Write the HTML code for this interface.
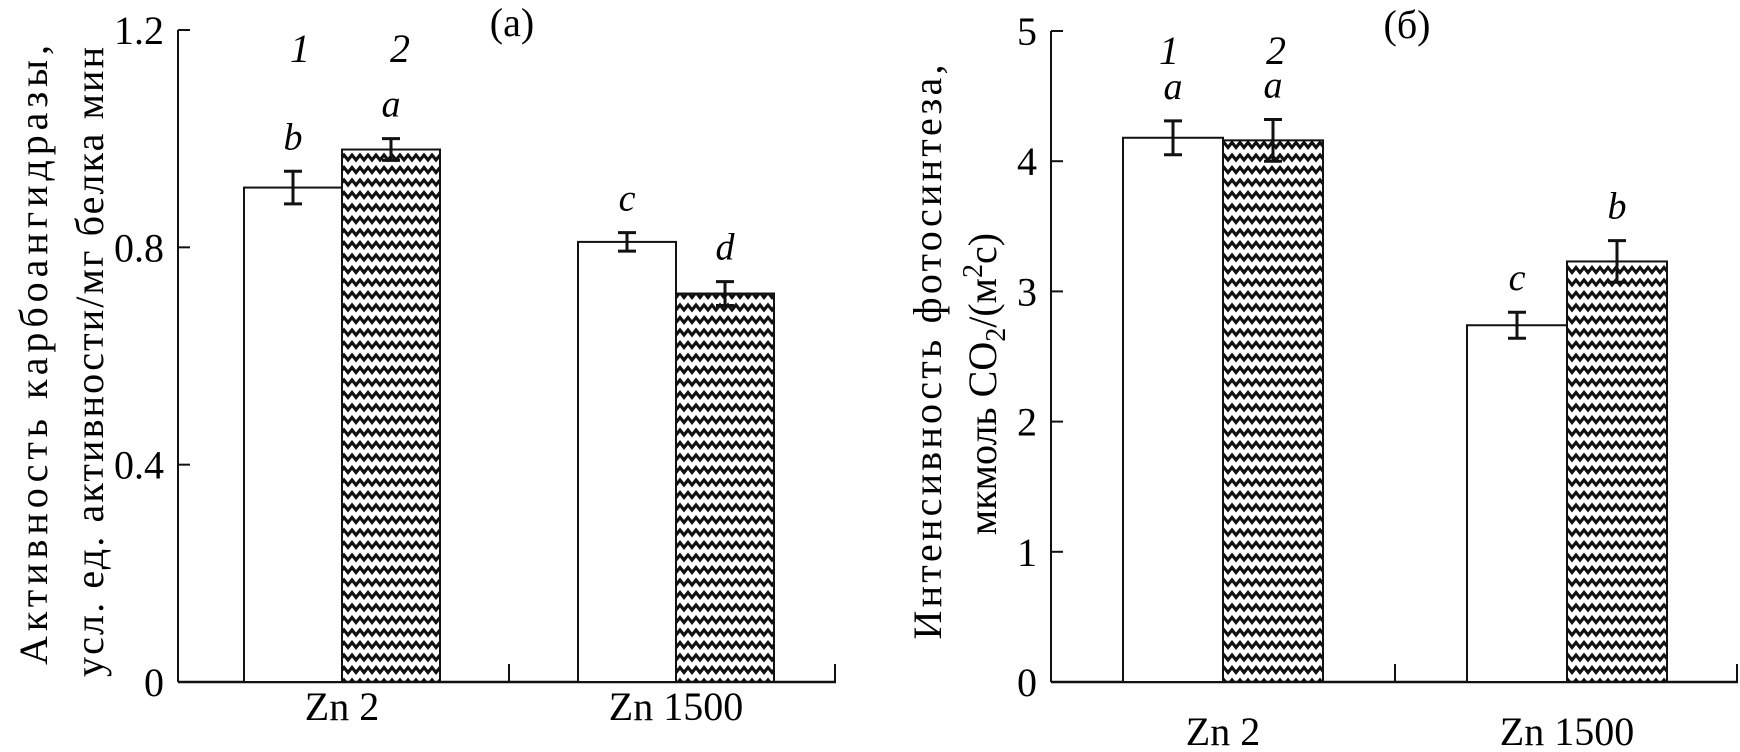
<!DOCTYPE html>
<html><head><meta charset="utf-8"><style>
body{margin:0;background:#fff}
svg{display:block;font-family:"Liberation Serif",serif}
</style></head><body>
<svg id="c" width="1740" height="752" xmlns="http://www.w3.org/2000/svg">
<defs>
<pattern id="zz" patternUnits="userSpaceOnUse" width="16" height="12.5" x="0" y="2">
<path d="M-4,8 L0,3 L4,8 L8,3 L12,8 L16,3 L20,8" fill="none" stroke="#111" stroke-width="3.2"/>
</pattern>
</defs>
</svg>
<script>
const categories = ["Zn 2","Zn 1500"];
const aWhite = [0.91, 0.81];
const aWhiteErr = [0.03, 0.017];
const aHatch = [0.98, 0.715];
const aHatchErr = [0.02, 0.022];
const aLetWhite = ["b","c"];
const aLetHatch = ["a","d"];
const aTicks = [0, 0.4, 0.8, 1.2];
const aTickLabels = ["0","0.4","0.8","1.2"];
const bWhite = [4.18, 2.74];
const bWhiteErr = [0.13, 0.1];
const bHatch = [4.16, 3.23];
const bHatchErr = [0.16, 0.16];
const bLetWhite = ["a","c"];
const bLetHatch = ["a","b"];
const bTicks = [0,1,2,3,4,5];
const bTickLabels = ["0","1","2","3","4","5"];

const svg = document.getElementById('c');
const NS = "http://www.w3.org/2000/svg";
function el(tag, attrs, txt){const e=document.createElementNS(NS,tag);for(const k in attrs)e.setAttribute(k,attrs[k]);if(txt!==undefined)e.textContent=txt;svg.appendChild(e);return e;}

function panel(p){
  const y = v => p.y0 - (v/p.max)*(p.y0-p.y1);
  const ax = el('line',{x1:p.ax,y1:p.y1,x2:p.ax,y2:p.y0,stroke:'#111','stroke-width':2});
  
  
  const xa = el('line',{x1:p.ax,y1:p.y0,x2:p.xEnd,y2:p.y0,stroke:'#111','stroke-width':2.5});
  
  
  [p.mid,p.xEnd-1].forEach(x=>{el('line',{x1:x,y1:p.y0,x2:x,y2:p.y0-18,stroke:'#111','stroke-width':2});});
  p.ticks.forEach((t,i)=>{
    el('line',{x1:p.ax,y1:y(t),x2:p.ax+12,y2:y(t),stroke:'#111','stroke-width':2});
    const tl = el('text',{x:p.ax-14,y:y(t)+14,'font-size':40,'text-anchor':'end'},p.tickLabels[i]);
    
    
  });
  categories.forEach((c,i)=>{
    const wx = p.barX[i], bw = p.bw;
    const r1 = el('rect',{x:wx,y:y(p.white[i]),width:bw,height:p.y0-y(p.white[i]),fill:'#fff',stroke:'#111','stroke-width':2});
    
    
    const r2 = el('rect',{x:wx+bw,y:y(p.hatch[i]),width:bw,height:p.y0-y(p.hatch[i]),fill:'url(#zz)',stroke:'#111','stroke-width':2});
    
    
    [[wx+bw/2,p.white[i],p.whiteErr[i],p.letW[i]],[wx+bw*1.5,p.hatch[i],p.hatchErr[i],p.letH[i]]].forEach(([cx,v,e,l])=>{
      const g = el('path',{d:`M${cx},${y(v+e)}V${y(v-e)}M${cx-9},${y(v+e)}H${cx+9}M${cx-9},${y(v-e)}H${cx+9}`,stroke:'#111','stroke-width':3,fill:'none'});
      
      
      const lt = el('text',{x:cx,y:y(v+e)-22,'font-size':38,'font-style':'italic','text-anchor':'middle'},l);
      
      
    });
    const cl = el('text',{x:wx+bw,y:p.catY,'font-size':40,'text-anchor':'middle'},c);
    
    
  });
}

panel({id:'panel-a',ax:178,y0:682,y1:30,xEnd:836,mid:509,max:1.2,ticks:aTicks,tickLabels:aTickLabels,
  barX:[244,578],bw:98,white:aWhite,whiteErr:aWhiteErr,hatch:aHatch,hatchErr:aHatchErr,letW:aLetWhite,letH:aLetHatch,catY:720});
panel({id:'panel-b',ax:1051,y0:682,y1:31,xEnd:1738,mid:1395,max:5,ticks:bTicks,tickLabels:bTickLabels,
  barX:[1123,1467],bw:100,white:bWhite,whiteErr:bWhiteErr,hatch:bHatch,hatchErr:bHatchErr,letW:bLetWhite,letH:bLetHatch,catY:745});
</script>
<svg style="position:absolute;left:0;top:0" width="1740" height="752" xmlns="http://www.w3.org/2000/svg">
<g font-family="Liberation Serif, serif" font-size="40">
<text x="300" y="62" font-style="italic" text-anchor="middle">1</text>
<text x="400" y="62" font-style="italic" text-anchor="middle">2</text>
<text x="512" y="36" text-anchor="middle">(a)</text>
<text x="1169" y="64" font-style="italic" text-anchor="middle">1</text>
<text x="1276" y="64" font-style="italic" text-anchor="middle">2</text>
<text x="1407" y="38" text-anchor="middle">(б)</text>
<text transform="translate(47,355) rotate(-90)" text-anchor="middle" textLength="620">Активность карбоангидразы,</text>
<text transform="translate(103,362) rotate(-90)" text-anchor="middle" textLength="630">усл. ед. активности/мг белка мин</text>
<text transform="translate(941,352) rotate(-90)" text-anchor="middle" textLength="575">Интенсивность фотосинтеза,</text>
<text transform="translate(996,384) rotate(-90)" text-anchor="middle">мкмоль CO<tspan font-size="28" dy="9">2</tspan><tspan dy="-9">/(м</tspan><tspan font-size="28" dy="-14">2</tspan><tspan dy="14">с)</tspan></text>
</g>
</svg>
</body></html>
